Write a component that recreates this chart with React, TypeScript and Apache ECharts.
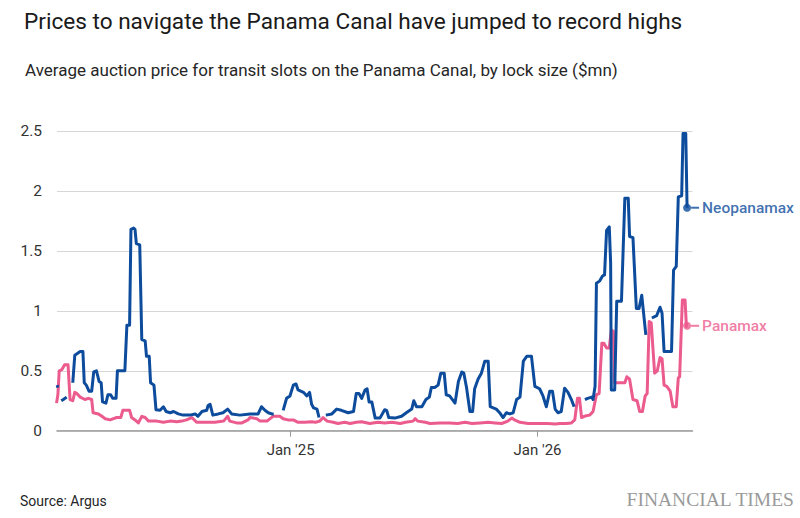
import React, { useEffect, useRef } from 'react';
import * as echarts from 'echarts';

// x values: days since 1 Jan 2024
const neoDay = [
  21, 22, 24, 27, 30, 35, 40, 44, 47, 55, 59, 61, 64, 68, 72, 75, 79, 83, 86, 88, 93, 96, 100, 103, 108,
  110, 121, 124, 128, 130, 134, 136, 138, 143, 146, 151, 153, 157, 159, 164, 167, 173, 178, 182, 188, 193,
  200, 207, 217, 225, 229, 235, 242, 244, 247, 251, 259, 266, 273, 279, 291, 306, 318, 323, 328, 333, 338,
  341, 348, 355, 360, 365, 370, 374, 377, 385, 390, 394, 397, 400, 405, 408, 413, 418, 427, 434, 441, 451,
  459, 463, 467, 471, 476, 479, 482, 486, 491, 498, 505, 508, 511, 520, 530, 537, 545, 548, 552, 560, 566,
  571, 574, 579, 584, 588, 593, 596, 601, 609, 614, 619, 622, 626, 631, 635, 638, 643, 648, 653, 658, 661,
  670, 675, 680, 685, 690, 695, 700, 705, 710, 715, 722, 727, 734, 739, 744, 749, 753, 757, 761, 766, 771,
  776, 781, 785, 793, 801, 805, 811, 813, 816, 818, 823, 827, 830, 833, 837, 839, 840, 845, 848, 855, 860,
  865, 867, 872, 877, 881, 885, 887, 891, 895, 900, 907, 912, 915, 918, 929, 932, 936, 939, 944, 946, 950,
  952,
];
const neoValue = [
  0.38, 0.36, null, 0.25, 0.26, 0.28, null, 0.4, 0.63, 0.66, 0.66, 0.4, 0.38, 0.33, 0.33, 0.49, 0.5, 0.41,
  0.4, 0.24, 0.23, 0.3, 0.3, 0.27, 0.27, 0.5, 0.5, 0.88, 0.88, 1.68, 1.69, 1.68, 1.56, 1.55, 0.76, 0.75,
  0.62, 0.62, 0.4, 0.38, 0.175, 0.17, 0.2, 0.16, 0.15, 0.16, 0.14, 0.13, 0.13, 0.14, 0.12, 0.16, 0.17,
  0.21, 0.22, 0.13, 0.14, 0.15, 0.18, 0.14, 0.13, 0.14, 0.14, 0.2, 0.17, 0.15, 0.14, 0.14, null, 0.17,
  0.27, 0.29, 0.38, 0.39, 0.34, 0.32, 0.29, 0.32, 0.22, 0.19, 0.18, 0.11, null, 0.13, 0.14, 0.18, 0.17,
  0.15, 0.16, 0.31, 0.31, 0.27, 0.34, 0.35, 0.24, 0.24, 0.105, 0.105, 0.175, 0.17, 0.11, 0.105, 0.12,
  0.15, 0.18, 0.25, 0.2, 0.2, 0.26, 0.28, 0.36, 0.36, 0.38, 0.48, 0.48, 0.3, 0.29, 0.23, 0.41, 0.49, 0.48,
  0.36, 0.16, 0.16, 0.35, 0.43, 0.48, 0.58, 0.58, 0.2, 0.18, 0.15, 0.11, 0.15, 0.14, 0.15, 0.26, 0.28,
  0.58, 0.62, 0.62, 0.37, 0.35, 0.29, 0.2, 0.33, 0.33, 0.18, 0.15, 0.16, 0.355, 0.32, 0.26, 0.2, null,
  0.26, 0.27, 0.28, 0.26, 0.37, 1.23, 1.25, 1.29, 1.3, 1.67, 1.7, 1.4, 0.34, 0.34, 1.08, 1.08, 1.94, 1.94,
  1.62, 1.61, 1.02, 1.02, 1.13, 1.02, 0.8, null, 0.94, 0.96, 1.03, 0.98, 0.66, 0.66, 1.34, 1.37, 1.95,
  1.96, 2.48, 2.48, 1.86,
];

const panaDay = [
  20, 22, 24, 28, 32, 37, 40, 44, 47, 50, 55, 62, 67, 72, 74, 82, 87, 92, 99, 109, 115, 118, 128, 131,
  136, 141, 146, 151, 156, 161, 168, 178, 188, 198, 205, 212, 220, 227, 237, 254, 267, 273, 276, 286, 294,
  303, 306, 316, 321, 331, 340, 350, 355, 362, 370, 377, 387, 397, 403, 409, 414, 420, 429, 436, 446, 454,
  463, 471, 483, 495, 505, 516, 528, 536, 547, 550, 554, 565, 572, 587, 601, 613, 624, 634, 646, 658, 668,
  678, 687, 693, 697, 705, 717, 727, 734, 746, 757, 764, 773, 781, 786, 790, 793, 796, 803, 808, 813, 818,
  822, 826, 829, 833, 837, 840, 843, 845, 860, 863, 867, 872, 878, 882, 886, 890, 893, 896, 899, 904, 908,
  912, 915, 918, 922, 927, 931, 936, 939, 941, 945, 949, 951, 952,
];
const panaValue = [
  0.23, 0.3, 0.5, 0.51, 0.55, 0.55, 0.26, 0.25, 0.32, 0.31, 0.28, 0.26, 0.27, 0.26, 0.15, 0.14, 0.12, 0.1,
  0.09, 0.11, 0.11, 0.17, 0.17, 0.11, 0.09, 0.065, 0.12, 0.11, 0.08, 0.08, 0.08, 0.07, 0.08, 0.075, 0.08,
  0.09, 0.11, 0.07, 0.07, 0.07, 0.08, 0.12, 0.08, 0.065, 0.065, 0.09, 0.11, 0.1, 0.08, 0.08, 0.12, 0.12,
  0.1, 0.09, 0.09, 0.07, 0.07, 0.075, 0.07, 0.08, 0.11, 0.08, 0.07, 0.06, 0.07, 0.06, 0.07, 0.075, 0.06,
  0.07, 0.065, 0.07, 0.06, 0.07, 0.08, 0.1, 0.08, 0.07, 0.06, 0.065, 0.065, 0.06, 0.07, 0.06, 0.065, 0.07,
  0.065, 0.06, 0.08, 0.105, 0.09, 0.07, 0.06, 0.06, 0.06, 0.06, 0.055, 0.06, 0.06, 0.065, 0.09, 0.27,
  0.27, 0.11, 0.125, 0.13, 0.16, 0.3, 0.31, 0.73, 0.73, 0.69, 0.69, 0.84, 0.83, 0.4, 0.4, 0.45, 0.43,
  0.26, 0.25, 0.16, 0.16, 0.29, 0.31, 0.91, 0.9, 0.48, 0.5, 0.61, 0.6, 0.38, 0.37, 0.33, 0.2, 0.2, 0.44,
  0.45, 1.09, 1.09, 0.87, 0.875,
];

const seriesNames = ['Neopanamax', 'Panamax'];
const xTickDays = [366, 731];
const xTickLabels = ["Jan '25", "Jan '26"];

const TITLE = 'Prices to navigate the Panama Canal have jumped to record highs';
const SUBTITLE = 'Average auction price for transit slots on the Panama Canal, by lock size ($mn)';
const SOURCE = 'Source: Argus';
const BRAND = 'FINANCIAL TIMES';

const BLUE = '#0d4c9c';
const PINK = '#ec5b8d';
const FONT = 'Roboto';

export default function App() {
  const ref = useRef<HTMLDivElement>(null);

  useEffect(() => {
    const chart = echarts.init(ref.current!, null, { renderer: 'svg' });
    const pairs = (d: number[], v: (number | null)[]) =>
      d.map((x, i) => [x, v[i] === null ? '-' : v[i]]);
    const neo = pairs(neoDay, neoValue);
    const pana = pairs(panaDay, panaValue);
    const neoLast = neo[neo.length - 1];
    const panaLast = pana[pana.length - 1];

    const endLabel = (name: string, color: string) => ({
      show: true,
      position: 'right',
      distance: 0,
      formatter: '{l|}{t|' + name + '}',
      rich: {
        l: { width: 8, height: 2, backgroundColor: color },
        t: { color, fontSize: 15.5, fontFamily: FONT, fontWeight: 500, padding: [0, 0, 0, 3] },
      },
    });

    chart.setOption({
      animation: false,
      backgroundColor: '#ffffff',
      textStyle: { fontFamily: FONT },
      title: [
        {
          text: TITLE,
          left: 19,
          top: 5,
          textStyle: { fontSize: 22.6, fontWeight: 'normal', color: '#1a1a1a', fontFamily: FONT },
        },
        {
          text: SUBTITLE,
          left: 20,
          top: 56,
          textStyle: { fontSize: 17, fontWeight: 'normal', color: '#262626', fontFamily: FONT },
        },
      ],
      graphic: [
        {
          type: 'text',
          left: 20,
          top: 494,
          style: { text: SOURCE, fontSize: 14, fill: '#262626', fontFamily: FONT },
        },
        {
          type: 'text',
          right: 5,
          top: 489,
          style: { text: BRAND, fontSize: 19.5, fill: '#9a9a9a', fontFamily: 'Liberation Serif' },
        },
      ],
      grid: { left: 57, right: 107.5, top: 131, bottom: 87.3, containLabel: false },
      xAxis: {
        type: 'value',
        min: 20.7,
        max: 960,
        splitLine: { show: false },
        axisLine: { show: true, lineStyle: { color: '#9a9a9a', width: 1.5 } },
        axisTick: {
          show: true,
          customValues: xTickDays,
          length: 6,
          lineStyle: { color: '#9a9a9a', width: 1 },
        },
        axisLabel: {
          customValues: xTickDays,
          formatter: (v: number) => xTickLabels[xTickDays.indexOf(Math.round(v))] ?? '',
          fontSize: 15,
          color: '#333333',
          margin: 12,
          fontFamily: FONT,
        },
      },
      yAxis: {
        type: 'value',
        min: 0,
        max: 2.5,
        interval: 0.5,
        axisLine: { show: false },
        axisTick: { show: false },
        splitLine: { lineStyle: { color: '#d6d6d6', width: 1 } },
        axisLabel: { fontSize: 15.5, color: '#333333', margin: 15, fontFamily: FONT },
      },
      series: [
        {
          name: seriesNames[1],
          type: 'line',
          data: pana,
          showSymbol: false,
          connectNulls: false,
          lineStyle: { color: PINK, width: 3, join: 'round' },
          itemStyle: { color: PINK },
          z: 2,
        },
        {
          name: seriesNames[0],
          type: 'line',
          data: neo,
          showSymbol: false,
          connectNulls: false,
          lineStyle: { color: BLUE, width: 3, join: 'round' },
          itemStyle: { color: BLUE },
          z: 3,
        },
        {
          type: 'scatter',
          data: [neoLast],
          symbolSize: 8,
          itemStyle: { color: BLUE },
          label: endLabel(seriesNames[0], BLUE),
          z: 4,
        },
        {
          type: 'scatter',
          data: [panaLast],
          symbolSize: 8,
          itemStyle: { color: PINK },
          label: endLabel(seriesNames[1], PINK),
          z: 4,
        },
      ],
    });
    return () => chart.dispose();
  }, []);

  return (
    <div
      ref={ref}
      style={{ position: 'fixed', left: 0, top: 0, width: 800, height: 518, background: '#ffffff' }}
    />
  );
}
